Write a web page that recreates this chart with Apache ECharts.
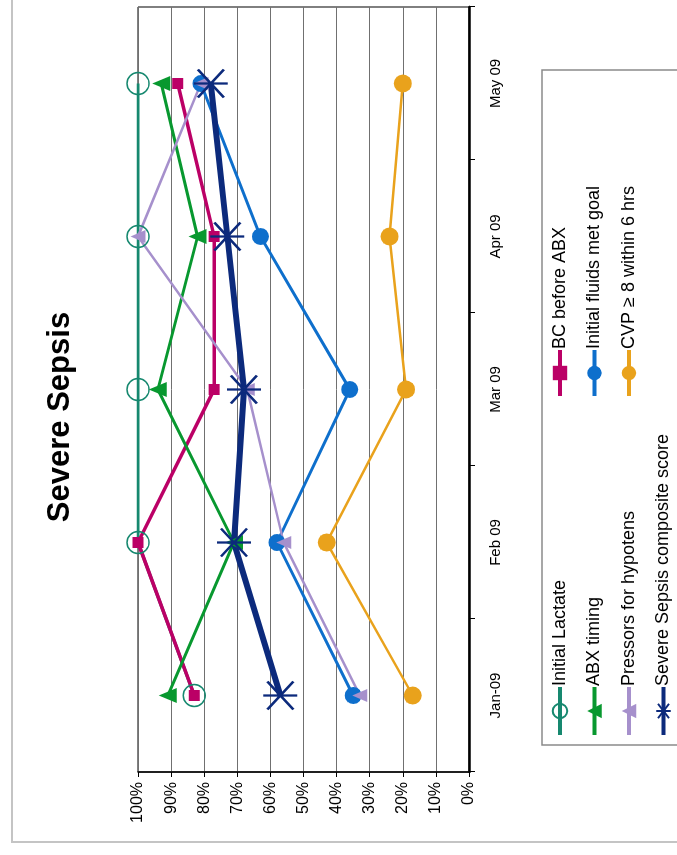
<!DOCTYPE html>
<html>
<head>
<meta charset="utf-8">
<title>Severe Sepsis</title>
<script src="https://cdn.jsdelivr.net/npm/echarts@6/dist/echarts.min.js"></script>
<style>
  html, body { margin: 0; padding: 0; background: #fff; overflow: hidden; width: 677px; height: 855px; }
  /* the scanned chart is turned on its side, so draw it upright and rotate the box */
  #main { position: absolute; left: 0; top: 0; width: 855px; height: 677px;
          transform-origin: 0 0; transform: translateY(855px) rotate(-90deg); }
</style>
</head>
<body>
<div id="main"></div>
<script>
// data
const months = ['Jan-09', 'Feb 09', 'Mar 09', 'Apr 09', 'May 09'];
const pctTicks = [0, 10, 20, 30, 40, 50, 60, 70, 80, 90, 100];

const initialLactate = [83, 100, 100, 100, 100];
const bcBeforeAbx = [83, 100, 77, 77, 88];
const abxTiming = [91, 71, 94, 82, 93];
const initialFluids = [35, 58, 36, 63, 81];
const pressors = [33, 56, 67, 100, 81];
const cvp = [17, 43, 19, 24, 20];
const composite = [57, 71, 68, 73, 78];

const FONT = "'Liberation Sans', Arial, sans-serif";
const asterisk = 'path://M13,0L13,34M0,4L26,30M0,30L26,4';

const chart = echarts.init(document.getElementById('main'), null, { width: 855, height: 677 });

// helper for one line series
function line(name, data, color, width, symbol, size, extra) {
  return Object.assign({
    name: name,
    type: 'line',
    data: data,
    color: color,
    symbol: symbol,
    symbolSize: size,
    showAllSymbol: true,
    lineStyle: { color: color, width: width },
    itemStyle: { color: color },
    emphasis: { disabled: true },
    animation: false
  }, extra || {});
}

const legendText = { fontFamily: FONT, fontSize: 18, color: '#000', padding: [0, 0, 0, -4] };

const option = {
  backgroundColor: '#fff',
  title: {
    text: 'Severe Sepsis',
    left: 438,
    textAlign: 'center',
    top: 45,
    padding: 0,
    textStyle: { fontFamily: FONT, fontSize: 31, fontWeight: 'bold', color: '#000' }
  },
  graphic: [
    // outer frame of the scan
    { type: 'rect', shape: { x: 13, y: 12, width: 900, height: 720 },
      style: { fill: 'none', stroke: '#c4c4c4', lineWidth: 2 }, silent: true },
    // legend box
    { type: 'rect', shape: { x: 110, y: 542, width: 675, height: 200 },
      style: { fill: 'none', stroke: '#8a8a8a', lineWidth: 1.5 }, silent: true }
  ],
  legend: [
    {
      data: ['Initial Lactate', 'ABX timing', 'Pressors for hypotens', 'Severe Sepsis composite score'],
      orient: 'vertical', left: 118, top: 551, padding: 0,
      itemWidth: 48, itemHeight: 18, itemGap: 16.5,
      lineStyle: { width: 4 },
      textStyle: legendText,
      selectedMode: false
    },
    {
      data: ['BC before ABX', 'Initial fluids met goal', 'CVP \u2265 8 within 6 hrs'],
      orient: 'vertical', left: 457, top: 551, padding: 0,
      itemWidth: 46, itemHeight: 18, itemGap: 16.5,
      lineStyle: { width: 4 },
      textStyle: legendText,
      selectedMode: false
    }
  ],
  grid: { left: 83, right: 7, top: 138, bottom: 208, show: true, borderColor: '#000', borderWidth: 1 },
  xAxis: {
    type: 'category',
    data: months,
    boundaryGap: true,
    axisLine: { lineStyle: { color: '#000', width: 2.5 } },
    axisTick: { show: true, length: 6, lineStyle: { color: '#000', width: 1 } },
    axisLabel: { margin: 19, fontFamily: FONT, fontSize: 15, color: '#000' }
  },
  yAxis: {
    type: 'value',
    min: pctTicks[0],
    max: pctTicks[pctTicks.length - 1],
    interval: 10,
    axisLine: { show: true, lineStyle: { color: '#000', width: 1.5 } },
    axisTick: { show: true, length: 5, lineStyle: { color: '#000' } },
    splitLine: { lineStyle: { color: '#707070', width: 1 } },
    axisLabel: { margin: 10, fontFamily: FONT, fontSize: 16, color: '#000', formatter: '{value}%' }
  },
  series: [
    line('Initial Lactate', initialLactate, '#16886f', 3, 'circle', 22,
      { itemStyle: { color: 'rgba(255,255,255,0)', borderColor: '#16886f', borderWidth: 1.5 } }),
    line('BC before ABX', bcBeforeAbx, '#bb0066', 3.5, 'rect', 11),
    line('ABX timing', abxTiming, '#08982f', 3, 'triangle', [15, 18]),
    line('Initial fluids met goal', initialFluids, '#0e6fcc', 3, 'circle', 17),
    line('Pressors for hypotens', pressors, '#a690cc', 2.5, 'triangle', [13, 15]),
    line('CVP \u2265 8 within 6 hrs', cvp, '#e9a21c', 2.5, 'circle', 18),
    line('Severe Sepsis composite score', composite, '#0c2a7c', 6, asterisk, [28, 34],
      { itemStyle: { color: '#0c2a7c', borderColor: '#0c2a7c', borderWidth: 2.5 } })
  ]
};

chart.setOption(option);
</script>
</body>
</html>
